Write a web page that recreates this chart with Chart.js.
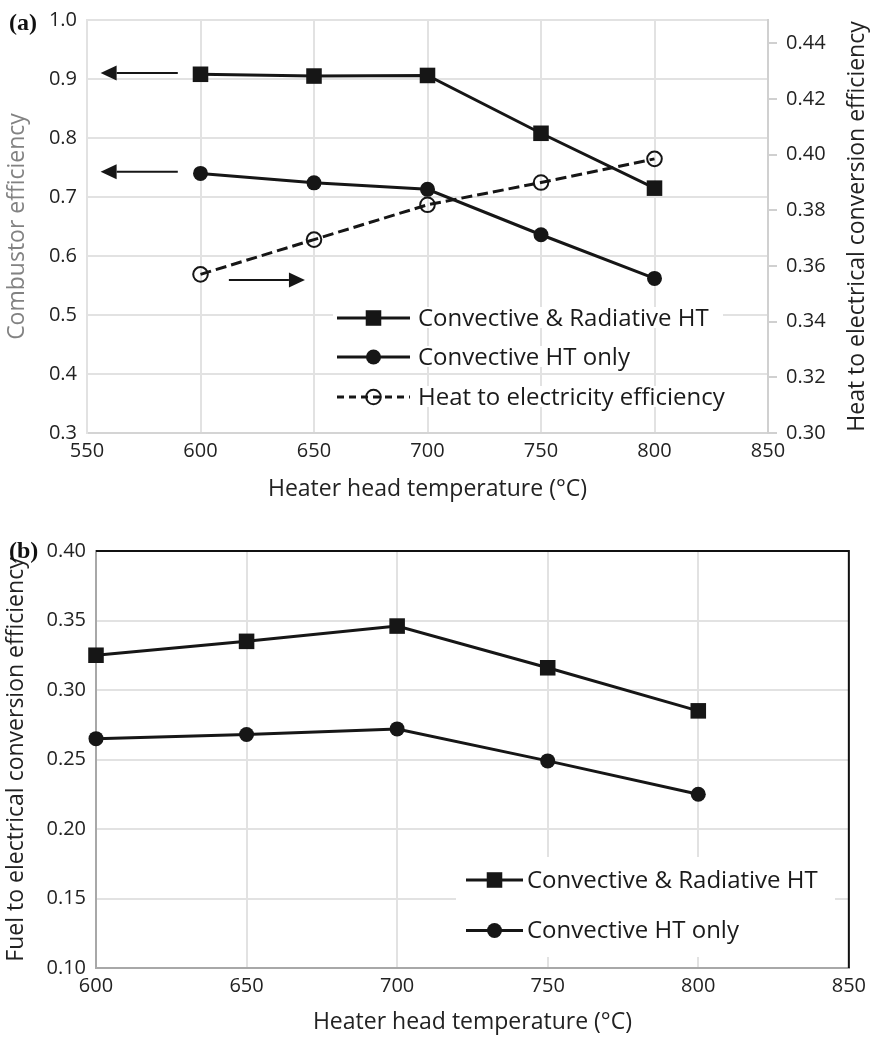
<!DOCTYPE html>
<html>
<head>
<meta charset="utf-8">
<script src="https://cdn.jsdelivr.net/npm/chart.js@4.4.1/dist/chart.umd.min.js"></script>
<style>
  body { margin: 0; background: #fff; }
  #wrap { position: relative; width: 874px; height: 1037px; }
  canvas { position: absolute; left: 0; }
  #chartA { top: 0; }
  #chartB { top: 515px; }
  .tag { position: absolute; left: 9px; font: bold 24px "Liberation Serif", serif; line-height: 1; color: #111; }
</style>
</head>
<body>
<div id="wrap">
  <canvas id="chartA" width="874" height="515"></canvas>
  <canvas id="chartB" width="874" height="522"></canvas>
  <div class="tag" style="top:10px">(a)</div>
  <div class="tag" style="top:538px">(b)</div>
</div>
<script>
// heater head temperatures (°C)
const temps = [600, 650, 700, 750, 800];

// panel (a): combustor efficiency (left axis) and heat-to-electric efficiency (right axis)
const combustorConvRad = [0.908, 0.905, 0.906, 0.808, 0.715];
const combustorConv = [0.740, 0.724, 0.713, 0.636, 0.562];
const heatToElec = [0.357, 0.3695, 0.382, 0.390, 0.3985];

// panel (b): fuel-to-electric efficiency
const fuelConvRad = [0.325, 0.335, 0.346, 0.316, 0.285];
const fuelConv = [0.265, 0.268, 0.272, 0.249, 0.225];

const seriesNames = ['Convective & Radiative HT', 'Convective HT only', 'Heat to electricity efficiency'];

// tick values
const xTicksA = [550, 600, 650, 700, 750, 800, 850];
const yTicksA = [0.3, 0.4, 0.5, 0.6, 0.7, 0.8, 0.9, 1.0];
const y2TicksA = [0.30, 0.32, 0.34, 0.36, 0.38, 0.40, 0.42, 0.44];
const y2MaxA = 0.4484;
const xTicksB = [600, 650, 700, 750, 800, 850];
const yTicksB = [0.10, 0.15, 0.20, 0.25, 0.30, 0.35, 0.40];

// direction arrows telling which axis each curve belongs to
const arrowsA = [
  { from: 590, to: 556, y: 0.910, axis: 'y' },
  { from: 590, to: 556, y: 0.743, axis: 'y' },
  { from: 612.5, to: 646, y: 0.355, axis: 'y2' }
];

const ink = '#161616';
const textColor = '#222';
const gridColor = '#e2e2e2';
const tickFont = { family: '"Open Sans", sans-serif', size: 20, lineHeight: 1 };
const titleFont = { family: '"Open Sans", sans-serif', size: 23 };

Chart.defaults.font.family = '"Open Sans", sans-serif';
Chart.defaults.color = textColor;

const pts = (vals) => temps.map((t, i) => ({ x: t, y: vals[i] }));
const tickList = (arr) => (s) => { s.ticks = arr.map(v => ({ value: v })); };

const squareStyle = { pointStyle: 'rect', pointRadius: 11, pointBackgroundColor: ink, pointBorderColor: ink, pointBorderWidth: 0 };
const dotStyle = { pointStyle: 'circle', pointRadius: 7.5, pointBackgroundColor: ink, pointBorderColor: ink, pointBorderWidth: 0 };
const ringStyle = { pointStyle: 'circle', pointRadius: 7.3, pointBackgroundColor: 'rgba(0,0,0,0)', pointBorderColor: ink, pointBorderWidth: 2 };

function lineSet(label, data, yAxisID, marker, dashed) {
  return Object.assign({
    label, data, yAxisID,
    borderColor: ink, borderWidth: 3,
    borderDash: dashed ? [11, 5] : [],
    tension: 0, clip: false
  }, marker);
}

function drawArrow(ctx, x0, y0, x1, y1) {
  const ang = Math.atan2(y1 - y0, x1 - x0);
  const head = 16, half = 7.5;
  const bx = x1 - head * Math.cos(ang), by = y1 - head * Math.sin(ang);
  ctx.beginPath();
  ctx.moveTo(x0, y0);
  ctx.lineTo(bx, by);
  ctx.stroke();
  ctx.beginPath();
  ctx.moveTo(x1, y1);
  ctx.lineTo(bx + half * Math.sin(ang), by - half * Math.cos(ang));
  ctx.lineTo(bx - half * Math.sin(ang), by + half * Math.cos(ang));
  ctx.closePath();
  ctx.fill();
}

// legend drawn by hand so it can sit inside the plot
function drawLegend(chart, cfg) {
  const ctx = chart.ctx;
  ctx.save();
  ctx.fillStyle = '#fff';
  cfg.boxes.forEach(b => ctx.fillRect(b[0], b[1], b[2], b[3]));
  chart.data.datasets.forEach((ds, i) => {
    const y = cfg.rows[i];
    ctx.strokeStyle = ink;
    ctx.lineWidth = 3;
    ctx.setLineDash(ds.borderDash.length ? [7, 5] : []);
    ctx.beginPath();
    ctx.moveTo(cfg.x0, y);
    ctx.lineTo(cfg.x1, y);
    ctx.stroke();
    ctx.setLineDash([]);
    ctx.fillStyle = ds.pointBackgroundColor;
    ctx.strokeStyle = ds.pointBorderColor;
    ctx.lineWidth = ds.pointBorderWidth;
    Chart.helpers.drawPoint(ctx, {
      pointStyle: ds.pointStyle, rotation: 0,
      radius: ds.pointRadius, borderWidth: ds.pointBorderWidth
    }, (cfg.x0 + cfg.x1) / 2, y);
    ctx.fillStyle = '#1a1a1a';
    ctx.font = '24px "Open Sans", sans-serif';
    ctx.textAlign = 'left';
    ctx.textBaseline = 'middle';
    ctx.fillText(ds.label, cfg.textX, y + 1);
  });
  ctx.restore();
}

const annotateA = {
  id: 'annotateA',
  afterDatasetsDraw(chart) {
    const ctx = chart.ctx;
    const xs = chart.scales.x;
    ctx.save();
    ctx.strokeStyle = ink;
    ctx.fillStyle = ink;
    ctx.lineWidth = 2;
    arrowsA.forEach(a => {
      const ys = chart.scales[a.axis];
      const py = ys.getPixelForValue(a.y);
      drawArrow(ctx, xs.getPixelForValue(a.from), py, xs.getPixelForValue(a.to), py);
    });
    ctx.restore();
    drawLegend(chart, {
      rows: [318, 357, 397], x0: 337, x1: 410, textX: 418,
      boxes: [[333, 307, 390, 21], [333, 346, 310, 21], [333, 386, 410, 21]]
    });
  },
  afterDraw(chart) {
    // secondary axis title, reading bottom to top
    const ctx = chart.ctx;
    const ca = chart.chartArea;
    ctx.save();
    ctx.translate(chart.width - 17, (ca.top + ca.bottom) / 2);
    ctx.rotate(-Math.PI / 2);
    ctx.fillStyle = textColor;
    ctx.font = '23px "Open Sans", sans-serif';
    ctx.textAlign = 'center';
    ctx.textBaseline = 'middle';
    ctx.fillText('Heat to electrical conversion efficiency', 0, 0);
    ctx.restore();
  }
};

const annotateB = {
  id: 'annotateB',
  beforeDatasetsDraw(chart) {
    // dark frame on top and right edges
    const ctx = chart.ctx;
    const ca = chart.chartArea;
    ctx.save();
    ctx.strokeStyle = '#111';
    ctx.lineWidth = 2;
    ctx.beginPath();
    ctx.moveTo(ca.left, ca.top);
    ctx.lineTo(ca.right, ca.top);
    ctx.lineTo(ca.right, ca.bottom);
    ctx.stroke();
    ctx.restore();
  },
  afterDatasetsDraw(chart) {
    drawLegend(chart, {
      rows: [365, 415.5], x0: 466, x1: 523, textX: 527,
      boxes: [[456, 342, 379, 100]]
    });
  }
};

new Chart(document.getElementById('chartA'), {
  type: 'line',
  data: {
    datasets: [
      lineSet(seriesNames[0], pts(combustorConvRad), 'y', squareStyle, false),
      lineSet(seriesNames[1], pts(combustorConv), 'y', dotStyle, false),
      lineSet(seriesNames[2], pts(heatToElec), 'y2', ringStyle, true)
    ]
  },
  options: {
    responsive: false,
    animation: false,
    devicePixelRatio: 1,
    layout: { padding: { top: 11, left: 0, right: 0, bottom: 0 } },
    plugins: { legend: { display: false }, tooltip: { enabled: false } },
    scales: {
      x: {
        type: 'linear',
        min: xTicksA[0], max: xTicksA[xTicksA.length - 1],
        afterBuildTicks: tickList(xTicksA),
        afterFit: s => { s.height = 82; },
        grid: { color: gridColor, lineWidth: 2, drawTicks: false },
        border: { color: '#d4d4d4', width: 2 },
        ticks: { padding: 8, font: tickFont, color: textColor, callback: v => String(v) },
        title: { display: true, text: 'Heater head temperature (°C)', font: titleFont, color: textColor, padding: { top: 0, bottom: 12 } }
      },
      y: {
        position: 'left',
        min: yTicksA[0], max: yTicksA[yTicksA.length - 1],
        afterBuildTicks: tickList(yTicksA),
        afterFit: s => { s.width = 87; },
        grid: { color: gridColor, lineWidth: 2, drawTicks: false },
        border: { color: gridColor, width: 2 },
        ticks: { padding: 10, font: tickFont, color: textColor, callback: v => v.toFixed(1) },
        title: { display: true, text: 'Combustor efficiency', font: titleFont, color: '#828282', padding: { top: 4, bottom: 0 } }
      },
      y2: {
        position: 'right',
        min: y2TicksA[0], max: y2MaxA,
        afterBuildTicks: tickList(y2TicksA),
        afterFit: s => { s.width = 106; },
        grid: { drawOnChartArea: false, color: '#d0d0d0', lineWidth: 2, tickLength: 9 },
        border: { color: '#d0d0d0', width: 2 },
        ticks: { padding: 9, font: tickFont, color: textColor, callback: v => v.toFixed(2) }
      }
    }
  },
  plugins: [annotateA]
});

new Chart(document.getElementById('chartB'), {
  type: 'line',
  data: {
    datasets: [
      lineSet(seriesNames[0], pts(fuelConvRad), 'y', squareStyle, false),
      lineSet(seriesNames[1], pts(fuelConv), 'y', dotStyle, false)
    ]
  },
  options: {
    responsive: false,
    animation: false,
    devicePixelRatio: 1,
    layout: { padding: { top: 36, left: 0, right: 20, bottom: 0 } },
    plugins: { legend: { display: false }, tooltip: { enabled: false } },
    scales: {
      x: {
        type: 'linear',
        min: xTicksB[0], max: xTicksB[xTicksB.length - 1],
        afterBuildTicks: tickList(xTicksB),
        afterFit: s => { s.height = 69; },
        grid: { color: gridColor, lineWidth: 2, drawTicks: false },
        border: { color: '#a8a8a8', width: 2 },
        ticks: { padding: 8, font: tickFont, color: textColor, callback: v => String(v) },
        title: { display: true, text: 'Heater head temperature (°C)', font: titleFont, color: textColor, padding: { top: 0, bottom: 1 } }
      },
      y: {
        position: 'left',
        min: yTicksB[0], max: yTicksB[yTicksB.length - 1],
        afterBuildTicks: tickList(yTicksB),
        afterFit: s => { s.width = 96; },
        grid: { color: gridColor, lineWidth: 2, drawTicks: false },
        border: { color: '#a8a8a8', width: 2 },
        ticks: { padding: 10, font: tickFont, color: textColor, callback: v => v.toFixed(2) },
        title: { display: true, text: 'Fuel to electrical conversion efficiency', font: titleFont, color: textColor, padding: { top: 3, bottom: 0 } }
      }
    }
  },
  plugins: [annotateB]
});
</script>
</body>
</html>
